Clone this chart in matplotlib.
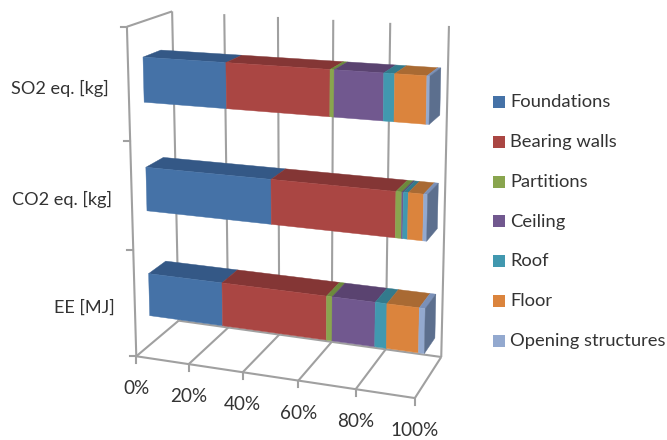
import numpy as np
import matplotlib.pyplot as plt
from matplotlib.patches import Polygon, Rectangle

plt.rcParams['font.family'] = ['Lato', 'DejaVu Sans']

# === Chart data (share of each element, %) ===
categories = ['EE [MJ]', 'CO2 eq. [kg]', 'SO2 eq. [kg]']
series_names = ['Foundations', 'Bearing walls', 'Partitions', 'Ceiling', 'Roof', 'Floor', 'Opening structures']
foundations = [28.0, 46.3, 30.5]
bearing_walls = [38.0, 43.2, 36.4]
partitions = [2.0, 2.0, 1.4]
ceiling = [15.0, 0.5, 16.6]
roof = [4.0, 1.6, 3.6]
floor = [11.0, 5.1, 10.5]
opening_structures = [2.0, 1.3, 1.0]
series_values = [foundations, bearing_walls, partitions, ceiling, roof, floor, opening_structures]
pct_ticks = [0, 20, 40, 60, 80, 100]

front_colors = ['#4572A7', '#AA4643', '#89A54E', '#71588F', '#4198AF', '#DB843D', '#93A9CF']
top_colors = ['#345886', '#843635', '#6C8A3C', '#5A4370', '#337A8C', '#A96A33', '#7A90B8']
side_color = '#5C6F8E'
grid_color = '#A0A0A0'
text_color = '#333333'

# === Perspective camera: (percent, category height, depth) -> pixels ===
anchors_3d = [(0, 0, 0), (100, 0, 0), (0, 0, 1), (100, 0, 1), (0, 3, 0), (0, 3, 1), (100, 3, 1)]
anchors_px = [(137, 357), (414, 398), (178, 320), (442, 357), (127, 26), (172, 12), (449, 26)]

rows = []
for (x, y, z), (u, v) in zip(anchors_3d, anchors_px):
    rows.append([x, y, z, 1, 0, 0, 0, 0, -u * x, -u * y, -u * z, -u])
    rows.append([0, 0, 0, 0, x, y, z, 1, -v * x, -v * y, -v * z, -v])
camera = np.linalg.svd(np.array(rows, dtype=float))[2][-1].reshape(3, 4)


def project(x, y, z):
    p = camera @ np.array([x, y, z, 1.0])
    return p[0] / p[2], p[1] / p[2]


# === Figure in pixel coordinates ===
fig = plt.figure(figsize=(6.67, 4.4), dpi=100)
ax = fig.add_axes([0, 0, 1, 1])
ax.set_xlim(0, 667)
ax.set_ylim(440, 0)
ax.axis('off')


def line3d(a, b, lw=1.5):
    (x0, y0), (x1, y1) = project(*a), project(*b)
    ax.plot([x0, x1], [y0, y1], color=grid_color, lw=lw, solid_capstyle='butt', zorder=1)


def face(corners, color):
    ax.add_patch(Polygon([project(*c) for c in corners], closed=True, facecolor=color,
                         edgecolor=color, lw=0.3, zorder=2))


# === Walls, floor and gridlines ===
for pct in pct_ticks:
    line3d((pct, 0, 0), (pct, 0, 1))
    line3d((pct, 0, 1), (pct, 3, 1))
    x0, y0 = project(pct, 0, 0)
    ax.plot([x0, x0], [y0, y0 + 6.5], color=grid_color, lw=1.5, zorder=1)
    ax.text(x0, y0 + 32.5, f'{pct}%', ha='center', va='center', fontsize=13.6, color=text_color)
line3d((0, 0, 0), (100, 0, 0))
line3d((0, 0, 1), (100, 0, 1))
line3d((0, 0, 0), (0, 3, 0))
line3d((0, 3, 0), (0, 3, 1))
for level in range(4):
    x0, y0 = project(0, level, 0)
    ax.plot([x0 - 6, x0], [y0, y0], color=grid_color, lw=1.5, zorder=1)

# === Stacked bars ===
bar_low, bar_high = 0.28, 0.685
depth_front, depth_back = 0.32, 0.72

for i, name in enumerate(categories):
    left = 0.0
    y0, y1 = i + bar_low, i + bar_high
    for values, front, top in zip(series_values, front_colors, top_colors):
        right = left + values[i]
        face([(left, y1, depth_front), (right, y1, depth_front), (right, y1, depth_back), (left, y1, depth_back)], top)
        face([(left, y0, depth_front), (right, y0, depth_front), (right, y1, depth_front), (left, y1, depth_front)], front)
        left = right
    face([(left, y0, depth_front), (left, y0, depth_back), (left, y1, depth_back), (left, y1, depth_front)], side_color)

    # category label left of the axis
    lx, ly = project(0, i + 0.5, 0)
    ax.text(lx - 20, ly + 4, name, ha='right', va='center', fontsize=13.1, color=text_color)

# === Legend ===
legend_y = np.linspace(102, 341, len(series_names))
for name, color, yc in zip(series_names, front_colors, legend_y):
    ax.add_patch(Rectangle((493, yc - 6), 12, 12, facecolor=color, edgecolor='none'))
    ax.text(510, yc, name, ha='left', va='center', fontsize=13.2, color=text_color)

fig.savefig('out.png', dpi=100)
